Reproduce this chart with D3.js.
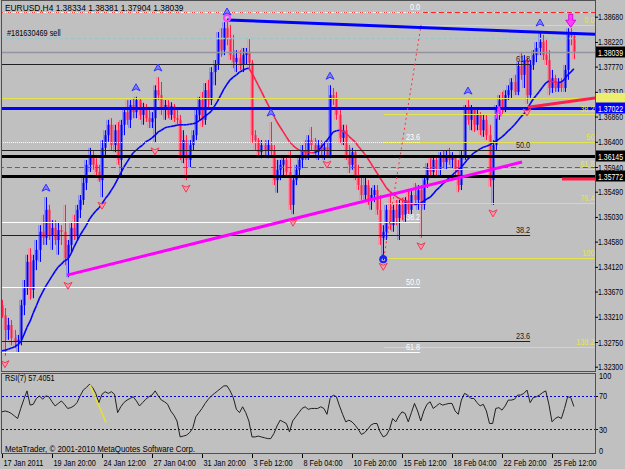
<!DOCTYPE html>
<html>
<head>
<meta charset="utf-8">
<script src="https://cdn.jsdelivr.net/npm/d3@7"></script>
<style>
  body { margin: 0; background: #c0c0c0; overflow: hidden; }
  svg text { font-family: "Liberation Sans", Arial, sans-serif; font-size: 9.5px; }
</style>
</head>
<body>
<div id="chart"></div>
<script>
// EURUSD H4 chart with RSI(7) sub window

var Chart = {}

// one entry per H4 bar, oldest first
var barOpen = [
  1.3342, 1.3324, 1.3297, 1.3306, 1.3282, 1.3275, 1.3279, 1.3342, 1.3373, 1.3421,
  1.3370, 1.3424, 1.3443, 1.3476, 1.3465, 1.3516, 1.3470, 1.3483, 1.3461, 1.3479,
  1.3476, 1.3428, 1.3452, 1.3483, 1.3470, 1.3516, 1.3534, 1.3565, 1.3598, 1.3616,
  1.3598, 1.3585, 1.3570, 1.3629, 1.3652, 1.3671, 1.3634, 1.3661, 1.3607, 1.3671,
  1.3694, 1.3680, 1.3707, 1.3694, 1.3716, 1.3689, 1.3702, 1.3683, 1.3676, 1.3683,
  1.3734, 1.3725, 1.3698, 1.3707, 1.3689, 1.3705, 1.3683, 1.3680, 1.3616, 1.3643,
  1.3607, 1.3634, 1.3652, 1.3689, 1.3716, 1.3680, 1.3734, 1.3716, 1.3767, 1.3780,
  1.3826, 1.3807, 1.3847, 1.3829, 1.3798, 1.3785, 1.3793, 1.3780, 1.3798, 1.3804,
  1.3784, 1.3652, 1.3643, 1.3621, 1.3634, 1.3625, 1.3634, 1.3625, 1.3570, 1.3589,
  1.3598, 1.3607, 1.3585, 1.3525, 1.3570, 1.3589, 1.3607, 1.3625, 1.3616, 1.3643,
  1.3634, 1.3621, 1.3634, 1.3625, 1.3630, 1.3616, 1.3725, 1.3720, 1.3689, 1.3647,
  1.3661, 1.3616, 1.3598, 1.3621, 1.3579, 1.3561, 1.3543, 1.3561, 1.3534, 1.3543,
  1.3552, 1.3516, 1.3465, 1.3476, 1.3516, 1.3488, 1.3516, 1.3501, 1.3525, 1.3507,
  1.3534, 1.3516, 1.3543, 1.3534, 1.3552, 1.3525, 1.3570, 1.3592, 1.3585, 1.3607,
  1.3589, 1.3610, 1.3603, 1.3616, 1.3607, 1.3612, 1.3589, 1.3561, 1.3616, 1.3698,
  1.3680, 1.3698, 1.3671, 1.3689, 1.3661, 1.3680, 1.3652, 1.3570, 1.3634, 1.3698,
  1.3716, 1.3702, 1.3725, 1.3734, 1.3749, 1.3731, 1.3778, 1.3762, 1.3789, 1.3725,
  1.3780, 1.3798, 1.3811, 1.3822, 1.3798, 1.3789, 1.3738, 1.3756, 1.3738, 1.3749,
  1.3738, 1.3771, 1.3835, 1.38334]
var barHigh = [
  1.3352, 1.3337, 1.3319, 1.3315, 1.3297, 1.3288, 1.3352, 1.3388, 1.3434, 1.3446,
  1.3434, 1.3461, 1.3488, 1.3507, 1.3539, 1.3525, 1.3497, 1.3497, 1.3494, 1.3488,
  1.3525, 1.3461, 1.3494, 1.3507, 1.3525, 1.3543, 1.3574, 1.3607, 1.3629, 1.3625,
  1.3610, 1.3598, 1.3643, 1.3661, 1.3680, 1.3683, 1.3671, 1.3676, 1.3680, 1.3702,
  1.3716, 1.3716, 1.3720, 1.3722, 1.3720, 1.3711, 1.3709, 1.3698, 1.3694, 1.3743,
  1.3758, 1.3749, 1.3716, 1.3716, 1.3712, 1.3709, 1.3702, 1.3689, 1.3661, 1.3652,
  1.3643, 1.3661, 1.3698, 1.3722, 1.3731, 1.3747, 1.3753, 1.3776, 1.3789, 1.3840,
  1.3847, 1.3858, 1.3862, 1.3853, 1.3835, 1.3807, 1.3807, 1.3811, 1.3811, 1.3827,
  1.3789, 1.3661, 1.3647, 1.3643, 1.3643, 1.3643, 1.3676, 1.3634, 1.3607, 1.3607,
  1.3616, 1.3616, 1.3625, 1.3579, 1.3598, 1.3616, 1.3634, 1.3643, 1.3652, 1.3667,
  1.3647, 1.3643, 1.3643, 1.3640, 1.3643, 1.3743, 1.3738, 1.3731, 1.3702, 1.3671,
  1.3671, 1.3634, 1.3629, 1.3625, 1.3598, 1.3579, 1.3574, 1.3570, 1.3556, 1.3561,
  1.3561, 1.3543, 1.3488, 1.3525, 1.3543, 1.3525, 1.3534, 1.3534, 1.3538, 1.3539,
  1.3552, 1.3552, 1.3565, 1.3561, 1.3561, 1.3579, 1.3601, 1.3610, 1.3616, 1.3612,
  1.3621, 1.3625, 1.3625, 1.3629, 1.3621, 1.3616, 1.3607, 1.3625, 1.3707, 1.3716,
  1.3707, 1.3702, 1.3698, 1.3694, 1.3689, 1.3689, 1.3671, 1.3643, 1.3707, 1.3725,
  1.3731, 1.3734, 1.3743, 1.3756, 1.3762, 1.3785, 1.3802, 1.3798, 1.3793, 1.3789,
  1.3807, 1.3822, 1.3840, 1.3835, 1.3826, 1.3807, 1.3771, 1.3762, 1.3756, 1.3756,
  1.3780, 1.3847, 1.3847, 1.38381]
var barLow = [
  1.3319, 1.3250, 1.3279, 1.3269, 1.3264, 1.3255, 1.3269, 1.3324, 1.3361, 1.3352,
  1.3355, 1.3406, 1.3421, 1.3452, 1.3452, 1.3461, 1.3443, 1.3452, 1.3434, 1.3452,
  1.3415, 1.3393, 1.3439, 1.3461, 1.3461, 1.3501, 1.3525, 1.3552, 1.3585, 1.3589,
  1.3574, 1.3567, 1.3539, 1.3616, 1.3640, 1.3625, 1.3621, 1.3598, 1.3579, 1.3652,
  1.3671, 1.3665, 1.3683, 1.3683, 1.3680, 1.3671, 1.3676, 1.3665, 1.3665, 1.3638,
  1.3716, 1.3689, 1.3680, 1.3683, 1.3680, 1.3676, 1.3671, 1.3607, 1.3601, 1.3570,
  1.3594, 1.3625, 1.3643, 1.3680, 1.3667, 1.3671, 1.3698, 1.3707, 1.3743, 1.3771,
  1.3795, 1.3798, 1.3816, 1.3789, 1.3774, 1.3767, 1.3771, 1.3767, 1.3780, 1.3774,
  1.3638, 1.3625, 1.3612, 1.3610, 1.3616, 1.3610, 1.3616, 1.3561, 1.3547, 1.3570,
  1.3579, 1.3574, 1.3516, 1.3508, 1.3561, 1.3579, 1.3592, 1.3607, 1.3607, 1.3625,
  1.3610, 1.3607, 1.3616, 1.3607, 1.3614, 1.3610, 1.3707, 1.3680, 1.3638, 1.3634,
  1.3607, 1.3583, 1.3589, 1.3570, 1.3552, 1.3534, 1.3534, 1.3525, 1.3516, 1.3530,
  1.3507, 1.3452, 1.3424, 1.3461, 1.3479, 1.3476, 1.3488, 1.3461, 1.3497, 1.3494,
  1.3507, 1.3507, 1.3525, 1.3516, 1.3465, 1.3516, 1.3556, 1.3574, 1.3574, 1.3579,
  1.3579, 1.3592, 1.3589, 1.3598, 1.3592, 1.3579, 1.3548, 1.3552, 1.3607, 1.3671,
  1.3661, 1.3658, 1.3661, 1.3652, 1.3649, 1.3643, 1.3558, 1.3525, 1.3625, 1.3680,
  1.3689, 1.3694, 1.3716, 1.3720, 1.3725, 1.3725, 1.3753, 1.3738, 1.3709, 1.3720,
  1.3771, 1.3785, 1.3798, 1.3789, 1.3780, 1.3725, 1.3729, 1.3731, 1.3731, 1.3731,
  1.3731, 1.3753, 1.3816, 1.37904]
var barClose = [
  1.3324, 1.3297, 1.3306, 1.3282, 1.3275, 1.3279, 1.3342, 1.3373, 1.3421, 1.3370,
  1.3424, 1.3443, 1.3476, 1.3465, 1.3516, 1.3470, 1.3483, 1.3461, 1.3479, 1.3476,
  1.3428, 1.3452, 1.3483, 1.3470, 1.3516, 1.3534, 1.3565, 1.3598, 1.3616, 1.3598,
  1.3585, 1.3570, 1.3629, 1.3652, 1.3671, 1.3634, 1.3661, 1.3607, 1.3671, 1.3694,
  1.3680, 1.3707, 1.3694, 1.3716, 1.3689, 1.3702, 1.3683, 1.3676, 1.3683, 1.3734,
  1.3725, 1.3698, 1.3707, 1.3689, 1.3705, 1.3683, 1.3680, 1.3616, 1.3643, 1.3607,
  1.3634, 1.3652, 1.3689, 1.3716, 1.3680, 1.3734, 1.3716, 1.3767, 1.3780, 1.3826,
  1.3807, 1.3847, 1.3829, 1.3798, 1.3785, 1.3793, 1.3780, 1.3798, 1.3804, 1.3784,
  1.3652, 1.3643, 1.3621, 1.3634, 1.3625, 1.3634, 1.3625, 1.3570, 1.3589, 1.3598,
  1.3607, 1.3585, 1.3525, 1.3570, 1.3589, 1.3607, 1.3625, 1.3616, 1.3643, 1.3634,
  1.3621, 1.3634, 1.3625, 1.3630, 1.3616, 1.3725, 1.3720, 1.3689, 1.3647, 1.3661,
  1.3616, 1.3598, 1.3621, 1.3579, 1.3561, 1.3543, 1.3561, 1.3534, 1.3543, 1.3552,
  1.3516, 1.3465, 1.3476, 1.3516, 1.3488, 1.3516, 1.3501, 1.3525, 1.3507, 1.3534,
  1.3516, 1.3543, 1.3534, 1.3552, 1.3525, 1.3570, 1.3592, 1.3585, 1.3607, 1.3589,
  1.3610, 1.3603, 1.3616, 1.3607, 1.3612, 1.3589, 1.3561, 1.3616, 1.3698, 1.3680,
  1.3698, 1.3671, 1.3689, 1.3661, 1.3680, 1.3652, 1.3570, 1.3634, 1.3698, 1.3716,
  1.3702, 1.3725, 1.3734, 1.3749, 1.3731, 1.3778, 1.3762, 1.3789, 1.3725, 1.3780,
  1.3798, 1.3811, 1.3822, 1.3798, 1.3789, 1.3738, 1.3756, 1.3738, 1.3749, 1.3738,
  1.3771, 1.3835, 1.3833, 1.38039]

// moving average (blue while rising, red while falling)
var maLine = [
  1.3259, 1.3260, 1.3262, 1.3264, 1.3266, 1.3270, 1.3275, 1.3288, 1.3302, 1.3313,
  1.3328, 1.3341, 1.3355, 1.3366, 1.3377, 1.3386, 1.3395, 1.3404, 1.3412, 1.3417,
  1.3423, 1.3426, 1.3435, 1.3448, 1.3459, 1.3470, 1.3479, 1.3488, 1.3499, 1.3507,
  1.3514, 1.3519, 1.3527, 1.3536, 1.3543, 1.3552, 1.3561, 1.3572, 1.3583, 1.3594,
  1.3603, 1.3612, 1.3620, 1.3625, 1.3630, 1.3634, 1.3640, 1.3643, 1.3647, 1.3652,
  1.3658, 1.3661, 1.3665, 1.3667, 1.3668, 1.3669, 1.3670, 1.3671, 1.3671, 1.3671,
  1.3672, 1.3673, 1.3674, 1.3678, 1.3682, 1.3687, 1.3691, 1.3696, 1.3705, 1.3714,
  1.3725, 1.3736, 1.3745, 1.3753, 1.3758, 1.3762, 1.3767, 1.3770, 1.3773, 1.3774,
  1.3765, 1.3754, 1.3743, 1.3732, 1.3720, 1.3709, 1.3698, 1.3687, 1.3676, 1.3667,
  1.3658, 1.3649, 1.3640, 1.3634, 1.3629, 1.3625, 1.3623, 1.3622, 1.3621, 1.3620,
  1.3620, 1.3623, 1.3629, 1.3636, 1.3643, 1.3650, 1.3658, 1.3660, 1.3661, 1.3660,
  1.3656, 1.3650, 1.3645, 1.3640, 1.3632, 1.3625, 1.3618, 1.3610, 1.3601, 1.3592,
  1.3583, 1.3574, 1.3565, 1.3556, 1.3550, 1.3545, 1.3541, 1.3537, 1.3534, 1.3532,
  1.3529, 1.3527, 1.3525, 1.3527, 1.3528, 1.3532, 1.3536, 1.3539, 1.3545, 1.3552,
  1.3557, 1.3563, 1.3568, 1.3574, 1.3579, 1.3584, 1.3589, 1.3594, 1.3601, 1.3608,
  1.3614, 1.3620, 1.3623, 1.3627, 1.3630, 1.3632, 1.3634, 1.3638, 1.3641, 1.3645,
  1.3649, 1.3654, 1.3660, 1.3665, 1.3671, 1.3678, 1.3685, 1.3691, 1.3698, 1.3709,
  1.3718, 1.3725, 1.3732, 1.3740, 1.3747, 1.3751, 1.3750, 1.3749, 1.3748, 1.3749,
  1.3754, 1.3762, 1.3767, 1.3773]

// RSI(7)
var rsiLine = [
  51, 52, 51, 49, 46, 43, 55, 66, 76, 59,
  60, 67, 70, 66, 70, 69, 63, 58, 61, 64,
  60, 55, 56, 58, 62, 70, 77, 80, 84, 80,
  73, 62, 72, 75, 73, 75, 72, 50, 57, 62,
  65, 67, 69, 64, 58, 62, 66, 69, 71, 76,
  70, 65, 63, 60, 52, 47, 40, 21, 22, 23,
  26, 31, 45, 50, 55, 61, 66, 70, 73, 76,
  79, 82, 82, 76, 68, 54, 50, 57, 50, 40,
  21, 21, 22, 21, 20, 19, 19, 25, 34, 41,
  39, 37, 27, 40, 45, 50, 55, 57, 54, 55,
  55, 55, 57, 55, 48, 67, 71, 69, 58, 48,
  39, 41, 39, 35, 30, 24, 26, 30, 35, 37,
  37, 27, 21, 23, 30, 43, 39, 46, 51, 49,
  39, 50, 61, 52, 40, 52, 60, 63, 55, 58,
  61, 59, 60, 61, 61, 52, 48, 65, 73, 71,
  67, 67, 62, 58, 60, 52, 37, 37, 55, 56,
  53, 58, 65, 65, 66, 71, 71, 73, 77, 62,
  68, 69, 71, 74, 76, 60, 39, 43, 45, 43,
  55, 69, 68, 57.4051]

var timeLabels = ["17 Jan 2011", "19 Jan 20:00", "24 Jan 12:00", "27 Jan 04:00", "31 Jan 20:00", "3 Feb 12:00",
  "8 Feb 04:00", "10 Feb 20:00", "15 Feb 12:00", "18 Feb 04:00", "22 Feb 20:00", "25 Feb 12:00"]
var timeLabelBars = [0, 16, 32, 48, 64, 80, 96, 112, 128, 144, 160, 176]
var priceTicks = [1.3868, 1.3822, 1.3777, 1.3731, 1.3686, 1.3640, 1.3594, 1.3549, 1.3503, 1.3458, 1.3412, 1.3367, 1.3321, 1.3275, 1.3230]
var rsiTicks = [100, 70, 30, 0]
var rsiLevels = [70, 30]

// fractal marks
var upFractalBars = [14, 43, 50, 86, 105, 149, 172]
var downFractalBars = [1, 21, 32, 49, 59, 93, 104, 134, 157, 168]

// horizontal objects
var orderPrice = 1.3829
var bidPrice = 1.38039
var stopPrices = [1.3877, 1.3594]
var bluePrice = 1.37022
var blackPrices = [1.36145, 1.35772]
var yellowPrice = 1.3720
var tagPrices = [1.38039, 1.37022, 1.36145, 1.35772]

// fibonacci objects
var blackFibLevels = ["61.8", "50.0", "38.2", "23.6"]
var blackFibPrices = [1.3781, 1.3625, 1.3470, 1.3277]
var whiteFibLevels = ["0.0", "23.6", "38.2", "50.0", "61.8"]
var whiteFibPrices = [1.3877, 1.3640, 1.3494, 1.3375, 1.3257]
var yellowFibLevels = ["0.0", "38.2", "50", "61.8", "76.4", "100", "138.2"]
var yellowFibPrices = [1.3853, 1.3691, 1.3640, 1.3590, 1.3528, 1.3428, 1.3266]

// trend lines as [bar, price] pairs
var resistanceLine = [[72, 1.3862], [189.8, 1.3836]]
var supportLine = [[20.8, 1.3397], [166.4, 1.3603]]
var redTrendLine = [[168.3, 1.3703], [189.8, 1.3720]]
var redStubLine = [[179.2, 1.3572], [189.8, 1.3572]]
var fibBaseLine = [[122.2, 1.3428], [134.1, 1.3853]]
var rsiTrendLine = [[28.2, 83], [33.3, 38]]

// single marks as [bar, price]
var peakMark = [72, 1.3862]
var topArrowMark = [182, 1.3847]
var lowMark = [122, 1.3424]
var magentaMark = [158.7, 1.3697]

// Set up the svg, scales and the two panels
function SetUpChart(){
  Chart.w = 625
  Chart.h = 469
  Chart.left = 2
  Chart.right = 595
  Chart.top = 1
  Chart.bottom = 371
  Chart.rsiTop = 374
  Chart.rsiBottom = 454

  Chart.svg = d3.select("#chart").append("svg")
    .attr("width", Chart.w)
    .attr("height", Chart.h)

  Chart.svg.append("rect")
    .attr("width", Chart.w).attr("height", Chart.h)
    .attr("fill", "#c0c0c0")

  var defs = Chart.svg.append("defs")
  defs.append("clipPath").attr("id", "mainClip").append("rect")
    .attr("x", Chart.left).attr("y", Chart.top)
    .attr("width", Chart.right - Chart.left).attr("height", Chart.bottom - Chart.top)
  defs.append("clipPath").attr("id", "rsiClip").append("rect")
    .attr("x", Chart.left).attr("y", Chart.rsiTop)
    .attr("width", Chart.right - Chart.left).attr("height", Chart.rsiBottom - Chart.rsiTop)

  Chart.x = d3.scaleLinear().domain([0, 16]).range([2, 52])
  Chart.y = d3.scaleLinear().domain([1.3230, 1.3868]).range([366.7, 16.7])
  Chart.r = d3.scaleLinear().domain([0, 100]).range([454.5, 370.8])

  Chart.main = Chart.svg.append("g").attr("clip-path", "url(#mainClip)")
  Chart.rsi = Chart.svg.append("g").attr("clip-path", "url(#rsiClip)")
}

// horizontal line between two bar positions
function AddHLine(g, price, bar1, bar2, color, width, dash){
  g.append("line")
    .attr("x1", Chart.x(bar1)).attr("x2", Chart.x(bar2))
    .attr("y1", Math.round(Chart.y(price)) + 0.5).attr("y2", Math.round(Chart.y(price)) + 0.5)
    .attr("stroke", color)
    .attr("stroke-width", width)
    .attr("stroke-dasharray", dash || null)
}

// line between two [bar, price] points
function AddSegment(g, pts, yScale, color, width, dash){
  g.append("path")
    .attr("d", d3.line().x(d => Chart.x(d[0])).y(d => yScale(d[1]))(pts))
    .attr("fill", "none")
    .attr("stroke", color)
    .attr("stroke-width", width)
    .attr("stroke-dasharray", dash || null)
}

function AddCandles(){
  var g = Chart.main.append("g")
  var bars = d3.range(barOpen.length)
  var y = Chart.y
  var up = d => barClose[d] >= barOpen[d]
  var cx = d => Math.round(Chart.x(d))

  // pale shadow of each bar
  g.selectAll(".shade").data(bars).enter().append("rect")
    .attr("x", d => cx(d) - 2)
    .attr("width", 1.5)
    .attr("y", d => y(barHigh[d]))
    .attr("height", d => y(barLow[d]) - y(barHigh[d]))
    .attr("fill", d => up(d) ? "#8f8ff0" : "#f295a4")

  g.selectAll(".wick").data(bars).enter().append("line")
    .attr("x1", d => cx(d) + 0.5).attr("x2", d => cx(d) + 0.5)
    .attr("y1", d => y(barHigh[d])).attr("y2", d => y(barLow[d]))
    .attr("stroke", d => up(d) ? "#0000ff" : "#ff1f4b")
    .attr("stroke-width", 1)

  g.selectAll(".body").data(bars).enter().append("rect")
    .attr("x", d => cx(d) - 0.5)
    .attr("width", 2)
    .attr("y", d => Math.min(y(barOpen[d]), y(barClose[d])))
    .attr("height", d => Math.max(1, Math.abs(y(barOpen[d]) - y(barClose[d]))))
    .attr("fill", d => up(d) ? "#0000ff" : "#ff1f4b")
}

function AddMovingAverage(){
  var g = Chart.main.append("g")
  var rising = true
  for (var i = 1; i < maLine.length; i++){
    if (maLine[i] > maLine[i-1]) rising = true
    else if (maLine[i] < maLine[i-1]) rising = false
    AddSegment(g, [[i-1, maLine[i-1]], [i, maLine[i]]], Chart.y, rising ? "#0000ff" : "#ff1f4b", 1.6)
  }
}

function AddLevels(){
  var g = Chart.main.append("g")
  var last = 200
  AddHLine(g, yellowPrice, -1, last, "#e4e44c", 1)
  AddHLine(g, stopPrices[0], -1, last, "#ffffff", 1, "1,2")
  stopPrices.forEach(p => AddHLine(g, p, -1, last, "#ff2020", 1, "5,3"))
  AddHLine(g, orderPrice, -1, last, "#9fc4cc", 1.5, "4,2")
  AddHLine(g, bidPrice, -1, last, "#9494a0", 1.5)

  // fibonacci levels
  yellowFibPrices.forEach((p, i) => AddHLine(g, p, fibBaseLine[0][0], last, "#e4e44c", 1))
  whiteFibPrices.forEach((p, i) => AddHLine(g, p, -1, 133.8, "#ffffff", 1, i < 2 ? "1,1" : null))
  blackFibPrices.forEach(p => AddHLine(g, p, -1, 169, "#202020", 1))

  AddHLine(g, bluePrice, -1, last, "#0000ff", 3)
  blackPrices.forEach(p => AddHLine(g, p, -1, last, "#000000", 3))

  AddSegment(g, fibBaseLine, Chart.y, "#ff3030", 1, "2,3")

  // level labels
  var lab = function(levels, prices, bar, color){
    g.selectAll(null).data(levels).enter().append("text")
      .attr("x", Chart.x(bar))
      .attr("y", (d, i) => Math.round(Chart.y(prices[i])) - 2)
      .attr("text-anchor", "end")
      .attr("fill", color)
      .text(d => d)
  }
  lab(blackFibLevels, blackFibPrices, 169, "#202020")
  lab(whiteFibLevels, whiteFibPrices, 133.8, "#ffffff")
  lab(yellowFibLevels, yellowFibPrices, 189.6, "#e4e44c")
}

function AddTrendLines(){
  var g = Chart.main.append("g")
  AddSegment(g, supportLine, Chart.y, "#ff00ff", 3)
  AddSegment(g, resistanceLine, Chart.y, "#0000ff", 3)
  AddSegment(g, redTrendLine, Chart.y, "#ff1f4b", 3)
  AddSegment(g, redStubLine, Chart.y, "#ff1f4b", 3)
}

// arrow head pointing up, centred at 0,0
var upArrow = "M0,-4L4,3L0,1L-4,3Z"
var downArrow = "M0,4L4,-3L0,-1L-4,-3Z"

function AddFractals(){
  var g = Chart.main.append("g")
  g.selectAll(".upf").data(upFractalBars).enter().append("path")
    .attr("d", upArrow)
    .attr("transform", d => "translate(" + Math.round(Chart.x(d)) + "," + (Chart.y(barHigh[d]) - 9) + ")")
    .attr("fill", "#8080ff").attr("stroke", "#3030ff").attr("stroke-width", 1)
  g.selectAll(".dnf").data(downFractalBars).enter().append("path")
    .attr("d", downArrow)
    .attr("transform", d => "translate(" + Math.round(Chart.x(d)) + "," + (Chart.y(barLow[d]) + 8) + ")")
    .attr("fill", "#ff9aa8").attr("stroke", "#f03a5a").attr("stroke-width", 1)

  // peak mark: blue head over a magenta ring
  var px = Chart.x(peakMark[0]), py = Chart.y(peakMark[1])
  g.append("circle").attr("cx", px).attr("cy", py - 2).attr("r", 3)
    .attr("fill", "none").attr("stroke", "#ff40ff").attr("stroke-width", 2)
  g.append("path").attr("d", upArrow).attr("transform", "translate(" + px + "," + (py - 8) + ")")
    .attr("fill", "#8080ff").attr("stroke", "#3030ff")

  // magenta down arrow at the last high
  var tx = Chart.x(topArrowMark[0]), ty = Chart.y(topArrowMark[1])
  g.append("path").attr("d", "M-2,-14h4v6h3l-5,7l-5,-7h3z")
    .attr("transform", "translate(" + tx + "," + ty + ")")
    .attr("fill", "#ff40ff").attr("stroke", "#e000e0")

  // blue ring mark at the low
  var lx = Chart.x(lowMark[0]), ly = Chart.y(lowMark[1])
  g.append("path").attr("d", downArrow).attr("transform", "translate(" + lx + "," + (ly + 6) + ")")
    .attr("fill", "#ff9aa8").attr("stroke", "#f03a5a")
  g.append("circle").attr("cx", lx).attr("cy", ly - 1).attr("r", 3)
    .attr("fill", "none").attr("stroke", "#2020ff").attr("stroke-width", 2)
  g.append("path").attr("d", upArrow).attr("transform", "translate(" + lx + "," + (ly - 3) + ")")
    .attr("fill", "#2020ff")

  // small magenta mark
  var mx = Chart.x(magentaMark[0]), my = Chart.y(magentaMark[1])
  g.append("path").attr("d", "M-2,8L1,-4L3,6")
    .attr("transform", "translate(" + mx + "," + my + ")")
    .attr("fill", "none").attr("stroke", "#ff30ff").attr("stroke-width", 2)
}

function AddPriceAxis(){
  var axis = d3.axisRight(Chart.y)
    .tickValues(priceTicks)
    .tickFormat(d3.format(".5f"))
    .tickSize(3).tickPadding(0)
  var ga = Chart.svg.append("g")
    .attr("transform", "translate(" + Chart.right + ",0)")
    .call(axis)
  ga.attr("font-family", null).attr("font-size", null)
  ga.select(".domain").remove()
  ga.selectAll("line").attr("stroke", "#000")
  ga.selectAll("text").attr("fill", "#000").classed("narrow", true)

  // price tags
  var tagFill = ["#000000", "#0000ff", "#000000", "#000000"]
  Chart.svg.append("rect")
    .attr("x", Chart.right + 1).attr("y", Math.round(Chart.y(yellowPrice)) - 5)
    .attr("width", 40).attr("height", 11).attr("fill", "#eeee6e")
  var tags = Chart.svg.selectAll(".tag").data(tagPrices).enter().append("g")
    .attr("transform", d => "translate(" + (Chart.right + 1) + "," + Math.round(Chart.y(d)) + ")")
  tags.append("rect").attr("x", 0).attr("y", -5.5).attr("width", 40).attr("height", 11)
    .attr("fill", (d, i) => tagFill[i])
  tags.append("text").attr("x", 2).attr("y", 3.5).attr("fill", "#ffffff").classed("narrow", true)
    .text(d => d3.format(".5f")(d))
}

function AddRsiPanel(){
  var g = Chart.rsi
  rsiLevels.forEach(v => {
    g.append("line")
      .attr("x1", Chart.left).attr("x2", Chart.right)
      .attr("y1", Math.round(Chart.r(v)) + 0.5).attr("y2", Math.round(Chart.r(v)) + 0.5)
      .attr("stroke", "#0000d0").attr("stroke-dasharray", "2,2")
  })
  g.append("path")
    .attr("d", d3.line().x((d, i) => Chart.x(i)).y(d => Chart.r(d))(rsiLine))
    .attr("fill", "none").attr("stroke", "#202020").attr("stroke-width", 1)
  AddSegment(g, rsiTrendLine, Chart.r, "#e8e030", 1.5)

  // scale labels, the end values kept inside the window
  var lab = Chart.svg.append("g")
  lab.selectAll(null).data(rsiTicks).enter().append("text")
    .attr("x", Chart.right + 4)
    .attr("y", d => Math.max(375, Math.min(450, Chart.r(d))) + 3.5)
    .attr("fill", "#000")
    .text(d => d)
  lab.selectAll(null).data(rsiLevels).enter().append("line")
    .attr("x1", Chart.right).attr("x2", Chart.right + 3)
    .attr("y1", d => Math.round(Chart.r(d)) + 0.5).attr("y2", d => Math.round(Chart.r(d)) + 0.5)
    .attr("stroke", "#000")
}

function AddTimeAxis(){
  var axis = d3.axisBottom(Chart.x)
    .tickValues(timeLabelBars)
    .tickFormat((d, i) => timeLabels[i])
    .tickSize(4).tickPadding(1)
  var ga = Chart.svg.append("g")
    .attr("transform", "translate(0," + Chart.rsiBottom + ")")
    .call(axis)
  ga.attr("font-family", null).attr("font-size", null)
  ga.select(".domain").remove()
  ga.selectAll("line").attr("stroke", "#000")
  ga.selectAll("text").attr("fill", "#000").attr("text-anchor", "start").attr("x", 1)
}

function AddFrames(){
  var s = Chart.svg
  s.append("rect")
    .attr("x", Chart.left - 0.5).attr("y", Chart.top - 0.5)
    .attr("width", Chart.right - Chart.left + 1).attr("height", Chart.bottom - Chart.top + 1)
    .attr("fill", "none").attr("stroke", "#505050")
  s.append("rect")
    .attr("x", Chart.left - 0.5).attr("y", Chart.rsiTop - 0.5)
    .attr("width", Chart.right - Chart.left + 1).attr("height", Chart.rsiBottom - Chart.rsiTop)
    .attr("fill", "none").attr("stroke", "#505050")
}

function AddTexts(){
  var s = Chart.svg
  s.append("text").attr("x", 5).attr("y", 11).attr("fill", "#000").classed("wide", true)
    .text("EURUSD,H4  1.38334 1.38381 1.37904 1.38039")
  s.append("text").attr("x", 7).attr("y", 36).attr("fill", "#000")
    .text("#181630469 sell")
  s.append("text").attr("x", 5).attr("y", 381).attr("fill", "#000")
    .text("RSI(7) 57.4051")
  s.append("text").attr("x", 5).attr("y", 452).attr("fill", "#000").classed("semi", true)
    .text("MetaTrader, \u00a9 2001-2010 MetaQuotes Software Corp.")
}

// the terminal font is narrow: squeeze each text to a share of its width
function CondenseTexts(){
  Chart.svg.selectAll("text").each(function(){
    var t = d3.select(this)
    var k = t.classed("narrow") ? 0.73 : t.classed("wide") ? 0.88 : t.classed("semi") ? 0.83 : 0.77
    var len = this.getComputedTextLength()
    t.attr("textLength", len * k).attr("lengthAdjust", "spacingAndGlyphs")
  })
}

SetUpChart()
AddCandles()
AddMovingAverage()
AddLevels()
AddTrendLines()
AddFractals()
AddRsiPanel()
AddFrames()
AddPriceAxis()
AddTimeAxis()
AddTexts()
CondenseTexts()
</script>
</body>
</html>
